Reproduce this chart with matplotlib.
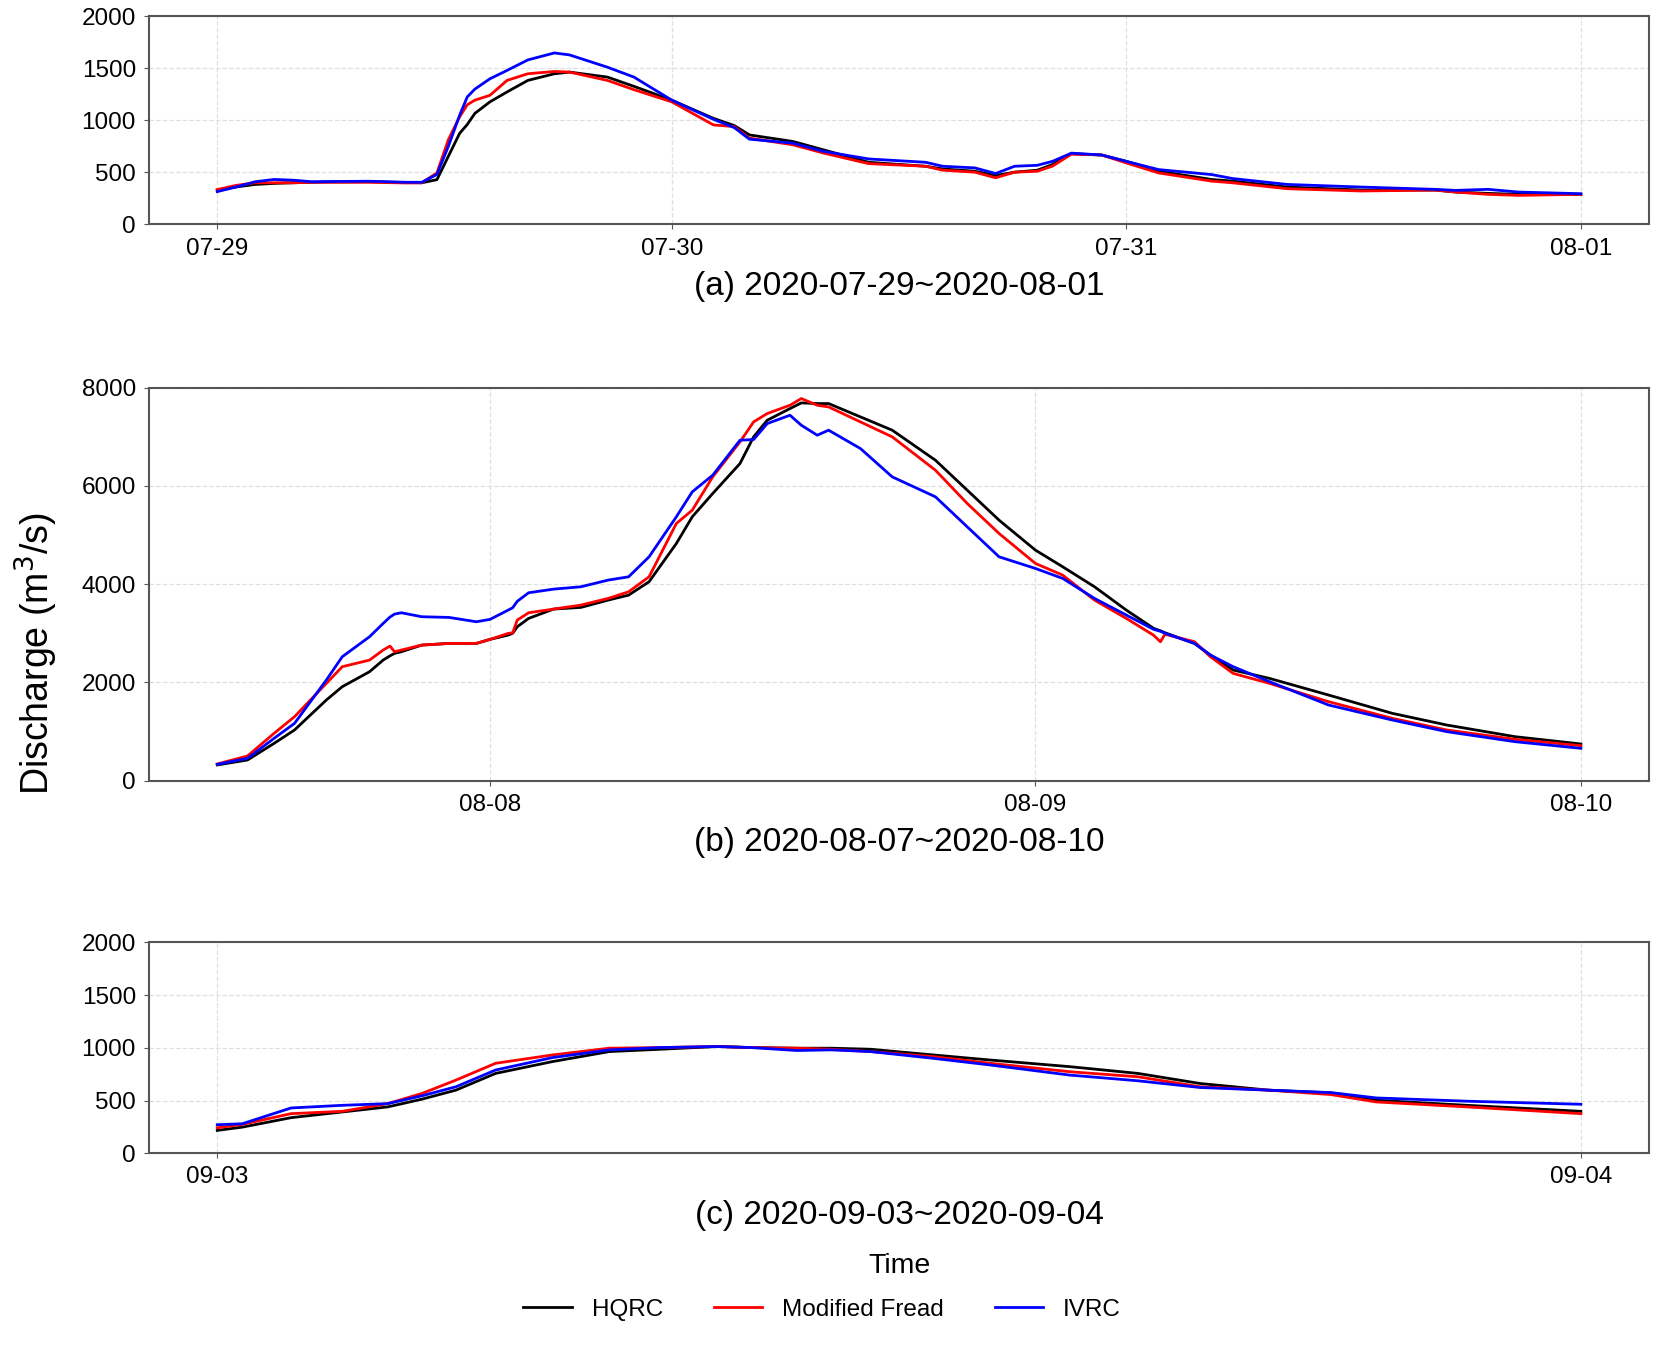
import numpy as np
import pandas as pd
import matplotlib
matplotlib.use('Agg')
import matplotlib.pyplot as plt
import matplotlib.dates as mdates

plt.rcParams['font.family'] = ['Liberation Sans', 'DejaVu Sans']

labels = ['HQRC', 'Modified Fread', 'IVRC']
colors = ['black', 'red', 'blue']

# (a) hours from 2020-07-29 00:00
t_a = [0, 1, 2, 3, 4, 5, 6, 8, 10, 10.8, 11.6, 12.2, 12.8, 13.2, 13.6, 14.4, 15.3,
       16.4, 17.8, 18.6, 20.6, 22, 24, 26.2, 27.3, 28.1, 30.4, 32, 34.4, 37.4, 38.3,
       40, 41.1, 42.1, 43.3, 44.1, 45.1, 46.7, 48, 49.7, 52.5, 53.6, 56.5, 60.4,
       64.3, 65.4, 67.1, 68.7, 72]
hqrc_a = [330, 360, 384, 394, 400, 405, 408, 410, 402, 400, 430, 654, 876, 960, 1067,
          1178, 1273, 1384, 1448, 1464, 1416, 1327, 1194, 1019, 950, 860, 797, 717,
          597, 559, 533, 511, 470, 502, 521, 575, 680, 667, 606, 511, 432, 416, 359,
          330, 330, 311, 298, 289, 289]
fread_a = [335, 375, 400, 400, 400, 405, 405, 405, 398, 400, 495, 813, 1035, 1150, 1194,
           1241, 1384, 1448, 1470, 1464, 1384, 1295, 1178, 956, 940, 829, 765, 686,
           584, 559, 521, 502, 448, 502, 511, 560, 675, 667, 591, 495, 416, 400, 343,
           321, 330, 311, 289, 279, 289]
ivrc_a = [315, 360, 410, 432, 425, 410, 412, 415, 405, 405, 480, 750, 1050, 1225, 1300,
          1400, 1480, 1581, 1648, 1629, 1511, 1416, 1194, 1010, 930, 819, 781, 702,
          629, 597, 559, 543, 489, 559, 568, 606, 685, 667, 606, 527, 479, 441, 384,
          359, 337, 327, 337, 311, 295]

# (b) hours from 2020-08-07 12:00
t_b = [0, 1.33, 2.5, 3.4, 4.8, 5.5, 6.7, 7.3, 7.6, 7.8, 8.1, 9, 10.2, 11.4, 12, 12.8,
       13.0, 13.2, 13.7, 14.8, 16, 17.2, 18.1, 19, 20.2, 20.9, 21.8, 23, 23.6, 24.2,
       25.2, 25.7, 26.4, 26.9, 28.3, 29.7, 31.6, 33, 34.4, 36, 37.2, 38.6, 40, 41.2,
       41.5, 41.7, 43, 43.7, 44.7, 46.3, 48.9, 51.7, 54.1, 57.1, 60]
hqrc_b = [319, 420, 759, 1031, 1641, 1912, 2217, 2454, 2540, 2590, 2624, 2759, 2793,
          2793, 2875, 2963, 3000, 3132, 3302, 3492, 3526, 3675, 3776, 4048, 4827, 5370,
          5844, 6454, 6997, 7336, 7573, 7689, 7675, 7675, 7404, 7133, 6522, 5912, 5302,
          4692, 4353, 3946, 3471, 3100, 3050, 3010, 2793, 2556, 2251, 2081, 1742, 1370,
          1132, 895, 746]
fread_b = [339, 502, 963, 1302, 1980, 2319, 2454, 2658, 2739, 2624, 2658, 2759, 2793,
           2793, 2875, 2997, 3010, 3268, 3417, 3492, 3573, 3709, 3844, 4149, 5234, 5505,
           6183, 6895, 7302, 7472, 7641, 7777, 7641, 7607, 7302, 6997, 6319, 5641, 5031,
           4421, 4183, 3675, 3302, 2960, 2827, 2980, 2827, 2522, 2183, 1980, 1607, 1268,
           1031, 841, 712]
ivrc_b = [332, 454, 861, 1166, 2048, 2522, 2929, 3200, 3330, 3390, 3417, 3336, 3322,
          3234, 3282, 3471, 3520, 3650, 3824, 3898, 3946, 4082, 4149, 4556, 5370, 5878,
          6217, 6929, 6943, 7268, 7438, 7234, 7031, 7133, 6760, 6183, 5777, 5166, 4556,
          4319, 4116, 3709, 3370, 3080, 3040, 3000, 2793, 2556, 2319, 2014, 1539, 1234,
          997, 793, 658]

# (c) hours from 2020-09-03 00:00
t_c = [0, 0.44, 1.3, 2.2, 3, 3.6, 4.2, 4.9, 5.9, 6.9, 7.8, 8.8, 9.4, 10.2, 10.8, 11.5,
       12.6, 13.6, 15, 16.2, 17.3, 18.5, 19.6, 20.4, 22, 24]
hqrc_c = [217, 248, 338, 392, 440, 513, 599, 758, 870, 965, 987, 1013, 1003, 997, 997,
          987, 933, 885, 822, 758, 662, 599, 573, 503, 455, 398]
fread_c = [242, 274, 376, 398, 471, 567, 694, 854, 933, 997, 1003, 1013, 1003, 997, 987,
           965, 917, 854, 774, 726, 631, 599, 557, 487, 440, 376]
ivrc_c = [271, 280, 430, 455, 471, 545, 631, 790, 908, 981, 1003, 1013, 1003, 975, 981,
          965, 901, 838, 742, 688, 624, 599, 576, 525, 494, 465]

panels = [
    ('2020-07-29 00:00', t_a, [hqrc_a, fread_a, ivrc_a], 2000, 500,
     '(a) 2020-07-29~2020-08-01', [0.0897, 0.835, 0.9025, 0.153]),
    ('2020-08-07 12:00', t_b, [hqrc_b, fread_b, ivrc_b], 8000, 2000,
     '(b) 2020-08-07~2020-08-10', [0.0897, 0.426, 0.9025, 0.289]),
    ('2020-09-03 00:00', t_c, [hqrc_c, fread_c, ivrc_c], 2000, 500,
     '(c) 2020-09-03~2020-09-04', [0.0897, 0.152, 0.9025, 0.155]),
]

fig = plt.figure(figsize=(16.62, 13.6), dpi=100)

for start, hours, series, ymax, ystep, title, rect in panels:
    ax = fig.add_axes(rect)
    times = pd.Timestamp(start) + pd.to_timedelta(hours, unit='h')
    for vals, lab, c in zip(series, labels, colors):
        ax.plot(times, vals, color=c, lw=2, label=lab)
    ax.set_ylim(0, ymax)
    ax.set_yticks(np.arange(0, ymax + 1, ystep))
    ax.xaxis.set_major_locator(mdates.DayLocator())
    ax.xaxis.set_major_formatter(mdates.DateFormatter('%m-%d'))
    ax.grid(True, ls='--', color='#e0e0e0', lw=0.9)
    ax.tick_params(labelsize=17.5, color='#555555', pad=6)
    for sp in ax.spines.values():
        sp.set_color('#555555')
        sp.set_linewidth(1.5)
    ax.set_xlabel(title, fontsize=24, labelpad=8)

handles, labs = ax.get_legend_handles_labels()
fig.legend(handles, labs, loc='center', bbox_to_anchor=(0.4946, 0.037), ncol=3,
           frameon=False, fontsize=17.5, columnspacing=2.1)
fig.text(0.541, 0.069, 'Time', fontsize=20.5, ha='center', va='center')
fig.text(0.022, 0.519, 'Discharge (m$^3$/s)', fontsize=27, rotation=90,
         ha='center', va='center')

fig.savefig('out.png', dpi=100)
